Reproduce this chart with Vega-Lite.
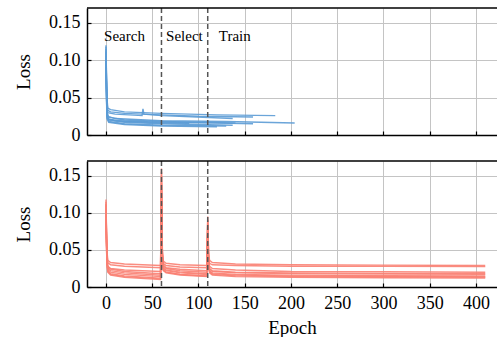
{
  "$schema": "https://vega.github.io/schema/vega-lite/v6.json",
  "padding": {"left": 14, "top": 7, "right": 0, "bottom": 0},
  "spacing": 16,
  "datasets": {
    "top": [
      {"s":1,"x":0,"y":0.12},{"s":1,"x":1,"y":0.05},{"s":1,"x":2,"y":0.036},{"s":1,"x":5,"y":0.034},{"s":1,"x":20,"y":0.031},{"s":1,"x":60,"y":0.029},{"s":1,"x":120,"y":0.027},{"s":1,"x":183,"y":0.026},
      {"s":2,"x":0,"y":0.118},{"s":2,"x":1,"y":0.045},{"s":2,"x":2,"y":0.033},{"s":2,"x":5,"y":0.031},{"s":2,"x":20,"y":0.029},{"s":2,"x":60,"y":0.027},{"s":2,"x":100,"y":0.025},{"s":2,"x":159,"y":0.024},
      {"s":3,"x":0,"y":0.115},{"s":3,"x":1,"y":0.04},{"s":3,"x":2,"y":0.03},{"s":3,"x":10,"y":0.028},{"s":3,"x":39,"y":0.026},{"s":3,"x":40,"y":0.035},{"s":3,"x":41,"y":0.028},{"s":3,"x":60,"y":0.026},{"s":3,"x":137,"y":0.022},
      {"s":4,"x":0,"y":0.112},{"s":4,"x":1,"y":0.035},{"s":4,"x":2,"y":0.025},{"s":4,"x":10,"y":0.022},{"s":4,"x":60,"y":0.019},{"s":4,"x":130,"y":0.018},{"s":4,"x":204,"y":0.016},
      {"s":5,"x":0,"y":0.11},{"s":5,"x":1,"y":0.03},{"s":5,"x":2,"y":0.022},{"s":5,"x":10,"y":0.019},{"s":5,"x":60,"y":0.017},{"s":5,"x":120,"y":0.016},{"s":5,"x":159,"y":0.015},
      {"s":6,"x":0,"y":0.105},{"s":6,"x":1,"y":0.028},{"s":6,"x":3,"y":0.02},{"s":6,"x":20,"y":0.017},{"s":6,"x":60,"y":0.015},{"s":6,"x":137,"y":0.013},
      {"s":7,"x":0,"y":0.1},{"s":7,"x":1,"y":0.025},{"s":7,"x":3,"y":0.018},{"s":7,"x":20,"y":0.015},{"s":7,"x":60,"y":0.013},{"s":7,"x":130,"y":0.012},
      {"s":8,"x":0,"y":0.1},{"s":8,"x":1,"y":0.03},{"s":8,"x":3,"y":0.024},{"s":8,"x":20,"y":0.02},{"s":8,"x":60,"y":0.018},{"s":8,"x":100,"y":0.017},{"s":8,"x":140,"y":0.016},
      {"s":9,"x":0,"y":0.095},{"s":9,"x":1,"y":0.026},{"s":9,"x":3,"y":0.021},{"s":9,"x":20,"y":0.018},{"s":9,"x":60,"y":0.016},{"s":9,"x":90,"y":0.0155},
      {"s":10,"x":0,"y":0.09},{"s":10,"x":1,"y":0.022},{"s":10,"x":3,"y":0.017},{"s":10,"x":20,"y":0.014},{"s":10,"x":60,"y":0.012},{"s":10,"x":120,"y":0.011}
    ],
    "bot": [
      {"s":1,"x":0,"y":0.118},{"s":1,"x":1,"y":0.05},{"s":1,"x":2,"y":0.036},{"s":1,"x":5,"y":0.033},{"s":1,"x":20,"y":0.031},{"s":1,"x":59,"y":0.029},{"s":1,"x":60,"y":0.155},{"s":1,"x":61,"y":0.05},{"s":1,"x":62,"y":0.035},{"s":1,"x":65,"y":0.032},{"s":1,"x":80,"y":0.03},{"s":1,"x":109,"y":0.029},{"s":1,"x":110,"y":0.095},{"s":1,"x":111,"y":0.045},{"s":1,"x":112,"y":0.036},{"s":1,"x":115,"y":0.033},{"s":1,"x":140,"y":0.031},{"s":1,"x":200,"y":0.03},{"s":1,"x":300,"y":0.0295},{"s":1,"x":410,"y":0.029},
      {"s":2,"x":0,"y":0.115},{"s":2,"x":1,"y":0.045},{"s":2,"x":2,"y":0.033},{"s":2,"x":5,"y":0.03},{"s":2,"x":20,"y":0.028},{"s":2,"x":59,"y":0.026},{"s":2,"x":60,"y":0.15},{"s":2,"x":61,"y":0.045},{"s":2,"x":62,"y":0.032},{"s":2,"x":65,"y":0.029},{"s":2,"x":80,"y":0.027},{"s":2,"x":109,"y":0.026},{"s":2,"x":110,"y":0.09},{"s":2,"x":111,"y":0.04},{"s":2,"x":112,"y":0.032},{"s":2,"x":115,"y":0.03},{"s":2,"x":140,"y":0.029},{"s":2,"x":200,"y":0.028},{"s":2,"x":300,"y":0.028},{"s":2,"x":410,"y":0.0275},
      {"s":3,"x":0,"y":0.112},{"s":3,"x":1,"y":0.04},{"s":3,"x":2,"y":0.028},{"s":3,"x":5,"y":0.025},{"s":3,"x":20,"y":0.023},{"s":3,"x":59,"y":0.021},{"s":3,"x":60,"y":0.16},{"s":3,"x":61,"y":0.045},{"s":3,"x":62,"y":0.03},{"s":3,"x":65,"y":0.026},{"s":3,"x":80,"y":0.024},{"s":3,"x":109,"y":0.022},{"s":3,"x":110,"y":0.09},{"s":3,"x":111,"y":0.038},{"s":3,"x":112,"y":0.028},{"s":3,"x":115,"y":0.025},{"s":3,"x":140,"y":0.023},{"s":3,"x":200,"y":0.021},{"s":3,"x":300,"y":0.0205},{"s":3,"x":410,"y":0.02},
      {"s":4,"x":0,"y":0.11},{"s":4,"x":1,"y":0.04},{"s":4,"x":2,"y":0.028},{"s":4,"x":5,"y":0.024},{"s":4,"x":20,"y":0.021},{"s":4,"x":59,"y":0.018},{"s":4,"x":60,"y":0.14},{"s":4,"x":61,"y":0.04},{"s":4,"x":62,"y":0.028},{"s":4,"x":65,"y":0.025},{"s":4,"x":80,"y":0.022},{"s":4,"x":109,"y":0.02},{"s":4,"x":110,"y":0.085},{"s":4,"x":111,"y":0.033},{"s":4,"x":112,"y":0.025},{"s":4,"x":115,"y":0.022},{"s":4,"x":140,"y":0.02},{"s":4,"x":200,"y":0.019},{"s":4,"x":300,"y":0.0184},{"s":4,"x":410,"y":0.018},
      {"s":5,"x":0,"y":0.105},{"s":5,"x":1,"y":0.038},{"s":5,"x":2,"y":0.026},{"s":5,"x":5,"y":0.022},{"s":5,"x":20,"y":0.019},{"s":5,"x":59,"y":0.016},{"s":5,"x":60,"y":0.13},{"s":5,"x":61,"y":0.038},{"s":5,"x":62,"y":0.026},{"s":5,"x":65,"y":0.023},{"s":5,"x":80,"y":0.02},{"s":5,"x":109,"y":0.018},{"s":5,"x":110,"y":0.08},{"s":5,"x":111,"y":0.032},{"s":5,"x":112,"y":0.024},{"s":5,"x":115,"y":0.021},{"s":5,"x":140,"y":0.019},{"s":5,"x":200,"y":0.018},{"s":5,"x":300,"y":0.0174},{"s":5,"x":410,"y":0.017},
      {"s":6,"x":0,"y":0.1},{"s":6,"x":1,"y":0.036},{"s":6,"x":2,"y":0.024},{"s":6,"x":5,"y":0.02},{"s":6,"x":20,"y":0.017},{"s":6,"x":59,"y":0.014},{"s":6,"x":60,"y":0.12},{"s":6,"x":61,"y":0.037},{"s":6,"x":62,"y":0.025},{"s":6,"x":65,"y":0.022},{"s":6,"x":80,"y":0.019},{"s":6,"x":109,"y":0.017},{"s":6,"x":110,"y":0.075},{"s":6,"x":111,"y":0.03},{"s":6,"x":112,"y":0.022},{"s":6,"x":115,"y":0.019},{"s":6,"x":140,"y":0.017},{"s":6,"x":200,"y":0.016},{"s":6,"x":300,"y":0.0154},{"s":6,"x":410,"y":0.015},
      {"s":7,"x":0,"y":0.095},{"s":7,"x":1,"y":0.034},{"s":7,"x":2,"y":0.022},{"s":7,"x":5,"y":0.018},{"s":7,"x":20,"y":0.015},{"s":7,"x":59,"y":0.012},{"s":7,"x":60,"y":0.11},{"s":7,"x":61,"y":0.035},{"s":7,"x":62,"y":0.023},{"s":7,"x":65,"y":0.02},{"s":7,"x":80,"y":0.017},{"s":7,"x":109,"y":0.015},{"s":7,"x":110,"y":0.07},{"s":7,"x":111,"y":0.029},{"s":7,"x":112,"y":0.021},{"s":7,"x":115,"y":0.018},{"s":7,"x":140,"y":0.016},{"s":7,"x":200,"y":0.015},{"s":7,"x":300,"y":0.0144},{"s":7,"x":410,"y":0.014},
      {"s":8,"x":0,"y":0.09},{"s":8,"x":1,"y":0.033},{"s":8,"x":2,"y":0.021},{"s":8,"x":5,"y":0.017},{"s":8,"x":20,"y":0.014},{"s":8,"x":59,"y":0.011},{"s":8,"x":60,"y":0.1},{"s":8,"x":61,"y":0.035},{"s":8,"x":62,"y":0.023},{"s":8,"x":65,"y":0.02},{"s":8,"x":80,"y":0.017},{"s":8,"x":109,"y":0.0145},{"s":8,"x":110,"y":0.065},{"s":8,"x":111,"y":0.028},{"s":8,"x":112,"y":0.02},{"s":8,"x":115,"y":0.017},{"s":8,"x":140,"y":0.015},{"s":8,"x":200,"y":0.014},{"s":8,"x":300,"y":0.0134},{"s":8,"x":410,"y":0.013},
      {"s":9,"x":0,"y":0.085},{"s":9,"x":1,"y":0.032},{"s":9,"x":2,"y":0.02},{"s":9,"x":5,"y":0.016},{"s":9,"x":20,"y":0.013},{"s":9,"x":59,"y":0.01},{"s":9,"x":60,"y":0.09},{"s":9,"x":61,"y":0.034},{"s":9,"x":62,"y":0.022},{"s":9,"x":65,"y":0.019},{"s":9,"x":80,"y":0.016},{"s":9,"x":109,"y":0.014},{"s":9,"x":110,"y":0.06},{"s":9,"x":111,"y":0.027},{"s":9,"x":112,"y":0.019},{"s":9,"x":115,"y":0.016},{"s":9,"x":140,"y":0.014},{"s":9,"x":200,"y":0.013},{"s":9,"x":300,"y":0.0124},{"s":9,"x":410,"y":0.012}
    ],
    "phases": [{"x":60},{"x":110}],
    "labels": [{"t":"Search","x":-2},{"t":"Select","x":65},{"t":"Train","x":122}],
    "border": [{"y":0.17}]
  },
  "vconcat": [
    {
      "width": 410, "height": 127,
      "layer": [
        {
          "data": {"name": "top"},
          "mark": {"type": "line", "color": "#5b9bd5", "strokeWidth": 1.4, "opacity": 0.9, "clip": true},
          "encoding": {
            "x": {"field": "x", "type": "quantitative", "scale": {"domain": [-20.5, 422.7], "nice": false, "zero": false},
                  "axis": {"values": [0,50,100,150,200,250,300,350,400], "labels": false, "title": null}},
            "y": {"field": "y", "type": "quantitative", "scale": {"domain": [0, 0.17], "nice": false},
                  "axis": {"values": [0,0.05,0.1,0.15], "labelExpr": "datum.value == 0 ? '0' : format(datum.value, '.2f')", "title": "Loss"}},
            "detail": {"field": "s"}
          }
        },
        {
          "data": {"name": "phases"},
          "mark": {"type": "rule", "color": "#555555", "strokeDash": [5, 3], "strokeWidth": 1.5},
          "encoding": {"x": {"field": "x", "type": "quantitative"}}
        },
        {
          "data": {"name": "border"},
          "mark": {"type": "rule", "color": "black", "strokeWidth": 1.5},
          "encoding": {"y": {"field": "y", "type": "quantitative"}}
        },
        {
          "data": {"name": "labels"},
          "mark": {"type": "text", "align": "left", "baseline": "middle", "fontSize": 15, "color": "black", "font": "Liberation Serif"},
          "encoding": {
            "x": {"field": "x", "type": "quantitative"},
            "y": {"datum": 0.133, "type": "quantitative"},
            "text": {"field": "t"}
          }
        }
      ]
    },
    {
      "width": 410, "height": 126,
      "layer": [
        {
          "data": {"name": "bot"},
          "mark": {"type": "line", "color": "#fa8072", "strokeWidth": 1.4, "opacity": 0.9, "clip": true},
          "encoding": {
            "x": {"field": "x", "type": "quantitative", "scale": {"domain": [-20.5, 422.7], "nice": false, "zero": false},
                  "axis": {"values": [0,50,100,150,200,250,300,350,400], "title": "Epoch"}},
            "y": {"field": "y", "type": "quantitative", "scale": {"domain": [0, 0.17], "nice": false},
                  "axis": {"values": [0,0.05,0.1,0.15], "labelExpr": "datum.value == 0 ? '0' : format(datum.value, '.2f')", "title": "Loss"}},
            "detail": {"field": "s"}
          }
        },
        {
          "data": {"name": "phases"},
          "mark": {"type": "rule", "color": "#555555", "strokeDash": [5, 3], "strokeWidth": 1.5},
          "encoding": {"x": {"field": "x", "type": "quantitative"}}
        },
        {
          "data": {"name": "border"},
          "mark": {"type": "rule", "color": "black", "strokeWidth": 1.5},
          "encoding": {"y": {"field": "y", "type": "quantitative"}}
        }
      ]
    }
  ],
  "config": {
    "font": "Liberation Serif",
    "view": {"stroke": null},
    "axis": {
      "grid": true, "gridColor": "#c4c4c4", "gridWidth": 1,
      "domainColor": "black", "domainWidth": 1.5,
      "tickColor": "black", "tickSize": -4, "tickWidth": 1.2,
      "labelFont": "Liberation Serif", "titleFont": "Liberation Serif",
      "labelFontSize": 18, "labelColor": "black", "labelPadding": 11,
      "titleFontSize": 19, "titleFontWeight": "normal", "titleColor": "black"
    },
    "axisY": {"titlePadding": 15},
    "axisX": {"titlePadding": 6}
  }
}
